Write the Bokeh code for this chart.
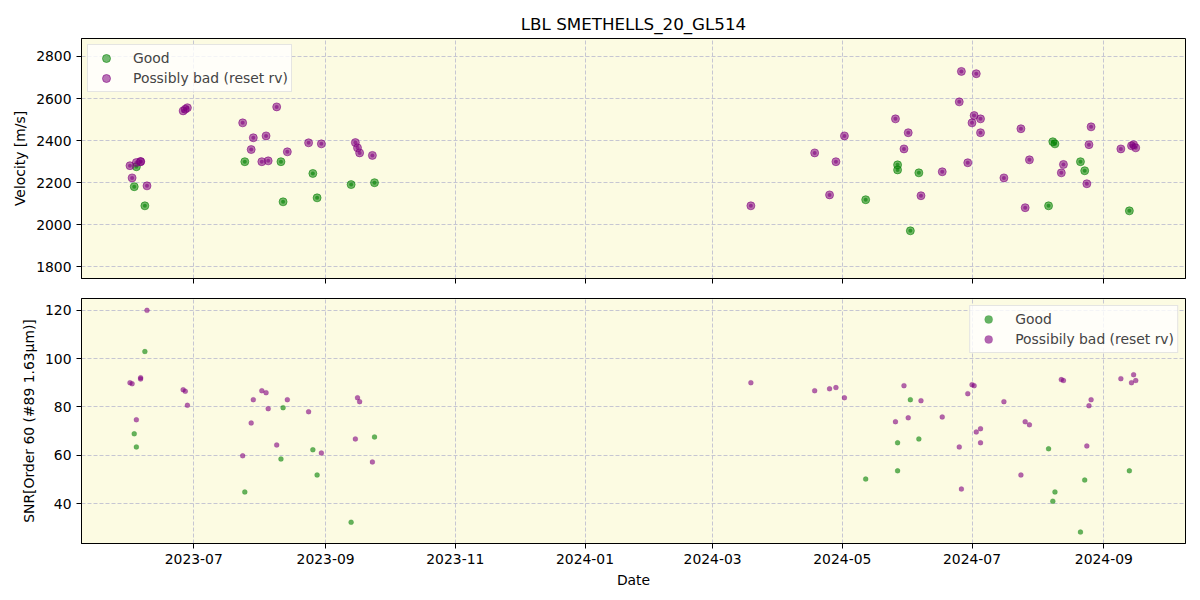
import datetime as dt
from bokeh.plotting import figure
from bokeh.layouts import column
from bokeh.models import (Range1d, ColumnDataSource, Legend, LegendItem, MonthsTicker,
                          DatetimeTickFormatter, SingleIntervalTicker, CustomJSTickFormatter)
from bokeh.embed import file_html
from bokeh.resources import INLINE

# ---------------- data ----------------
good_dates = ["2023-06-03", "2023-06-04", "2023-06-08", "2023-07-25", "2023-08-11", "2023-08-12",
              "2023-08-26", "2023-08-28", "2023-09-13", "2023-09-24", "2024-05-12", "2024-05-27",
              "2024-05-27", "2024-06-02", "2024-06-06", "2024-08-06", "2024-08-08", "2024-08-09",
              "2024-08-21", "2024-08-23", "2024-09-13"]
good_rv = [2180, 2275, 2089, 2299, 2299, 2108, 2243, 2127, 2190, 2199, 2118, 2284,
           2260, 1970, 2246, 2089, 2394, 2384, 2299, 2256, 2065]
good_snr = [68.9, 63.5, 102.9, 44.9, 58.5, 79.7, 62.3, 51.9, 32.4, 67.6, 50.2, 65.2,
            53.6, 83.0, 66.8, 62.7, 41.1, 44.9, 28.3, 49.8, 53.6]

bad_dates = ["2023-06-01", "2023-06-02", "2023-06-04", "2023-06-06", "2023-06-06", "2023-06-09",
             "2023-06-26", "2023-06-27", "2023-06-28", "2023-07-24", "2023-07-28", "2023-07-29",
             "2023-08-02", "2023-08-04", "2023-08-05", "2023-08-09", "2023-08-14", "2023-08-24",
             "2023-08-30", "2023-09-15", "2023-09-16", "2023-09-17", "2023-09-23",
             "2024-03-19", "2024-04-18", "2024-04-25", "2024-04-28", "2024-05-02", "2024-05-26",
             "2024-05-30", "2024-06-01", "2024-06-07", "2024-06-17", "2024-06-25", "2024-06-26",
             "2024-06-29", "2024-07-01", "2024-07-02", "2024-07-03", "2024-07-05", "2024-07-05",
             "2024-07-16", "2024-07-24", "2024-07-26", "2024-07-28", "2024-08-12", "2024-08-13",
             "2024-08-24", "2024-08-25", "2024-08-26", "2024-09-09", "2024-09-14", "2024-09-15",
             "2024-09-16"]
bad_rv = [2280, 2222, 2295, 2299, 2300, 2184,
          2541, 2549, 2556, 2484, 2357, 2413,
          2299, 2422, 2303, 2560, 2346, 2389,
          2384, 2390, 2365, 2341, 2329,
          2089, 2341, 2141, 2299, 2422, 2503,
          2360, 2437, 2137, 2251, 2584, 2729,
          2294, 2484, 2519, 2718, 2503, 2437,
          2222, 2456, 2080, 2308, 2246, 2286,
          2194, 2380, 2465, 2360, 2375, 2380,
          2365]
bad_snr = [90.0, 89.6, 74.7, 92.1, 91.6, 119.9,
           87.1, 86.5, 80.7, 59.8, 73.4, 83.0,
           86.7, 85.9, 79.3, 64.3, 83.0, 78.0,
           61.0, 66.8, 83.8, 82.2, 57.3,
           90.0, 86.7, 87.5, 88.0, 83.8, 73.9,
           88.8, 75.5, 82.6, 75.9, 63.5, 46.1,
           85.5, 89.2, 88.8, 69.7, 71.0, 65.2,
           82.2, 51.9, 73.9, 72.6, 91.3, 90.9,
           63.9, 80.5, 83.0, 91.7, 90.0, 93.3,
           90.9]

title_text = "LBL SMETHELLS_20_GL514"
good_label = "Good"
bad_label_top = "Possibly bad (reset rv)"
bad_label_bottom = "Possibily bad (reset rv)"

# ---------------- styling ----------------
FONT = "DejaVu Sans"
FS = "13.9px"
BG = "#fcfbe2"
GREEN = "green"
PURPLE = "purple"

good_src = ColumnDataSource(dict(date=[dt.datetime.fromisoformat(d) for d in good_dates],
                                 rv=good_rv, snr=good_snr))
bad_src = ColumnDataSource(dict(date=[dt.datetime.fromisoformat(d) for d in bad_dates],
                                rv=bad_rv, snr=bad_snr))

ref = dt.datetime(2023, 7, 1)
x_start = ref - dt.timedelta(days=52.8)
x_end = ref + dt.timedelta(days=466.4)


def style(p):
    p.background_fill_color = BG
    p.border_fill_color = "white"
    p.outline_line_color = "black"
    p.outline_line_width = 1
    for ax in (p.xaxis[0], p.yaxis[0]):
        ax.axis_line_color = "black"
        ax.major_tick_line_color = "black"
        ax.major_tick_out = 5
        ax.major_tick_in = 0
        ax.minor_tick_line_color = None
        ax.major_label_text_font = FONT
        ax.major_label_text_font_size = FS
        ax.major_label_text_color = "black"
        ax.axis_label_text_font = FONT
        ax.axis_label_text_font_size = FS
        ax.axis_label_text_font_style = "normal"
        ax.axis_label_text_color = "black"
    p.xaxis[0].ticker = MonthsTicker(months=[0, 2, 4, 6, 8, 10])
    p.xaxis[0].formatter = DatetimeTickFormatter(months="%Y-%m", days="%Y-%m", years="%Y-%m")
    p.grid.grid_line_color = "#c6c6d2"
    p.grid.grid_line_dash = "4 2"
    p.grid.grid_line_width = 1


def make_legend(items, location, margin):
    lg = Legend(items=items, location=location, margin=margin, padding=3, spacing=0,
                glyph_width=30, glyph_height=20, label_height=20, label_standoff=12,
                label_text_font=FONT, label_text_font_size=FS,
                border_line_color="#cccccc", border_line_width=1,
                background_fill_color="white", background_fill_alpha=0.8)
    return lg


# ---------------- top panel ----------------
p1 = figure(width=1200, height=288, x_axis_type="datetime",
            x_range=Range1d(x_start, x_end), y_range=Range1d(1742.9, 2885.7),
            output_backend="svg", toolbar_location=None,
            min_border_left=81, min_border_right=15, min_border_top=38, min_border_bottom=10)
style(p1)
p1.title.text = title_text
p1.title.align = "center"
p1.title.text_font = FONT
p1.title.text_font_size = "16.7px"
p1.title.text_font_style = "normal"
p1.title.text_color = "black"
p1.yaxis[0].ticker = SingleIntervalTicker(interval=200, num_minor_ticks=0)
p1.yaxis[0].axis_label = "Velocity [m/s]"
p1.xaxis[0].formatter = CustomJSTickFormatter(code="return ''")

g_out = p1.scatter("date", "rv", source=good_src, size=8, marker="circle",
                   fill_color=GREEN, fill_alpha=0.55, line_color=GREEN, line_alpha=0.55, line_width=1)
p1.scatter("date", "rv", source=good_src, size=4, marker="circle",
           fill_color=GREEN, fill_alpha=0.6, line_color=None)
b_out = p1.scatter("date", "rv", source=bad_src, size=8, marker="circle",
                   fill_color=PURPLE, fill_alpha=0.55, line_color=PURPLE, line_alpha=0.55, line_width=1)
p1.scatter("date", "rv", source=bad_src, size=4, marker="circle",
           fill_color=PURPLE, fill_alpha=0.6, line_color=None)

# empty span renderers: only give the legend symbols their error-bar stroke
g_bar = p1.vspan(x=[], line_color=GREEN, line_alpha=0.6, line_width=1.5)
b_bar = p1.vspan(x=[], line_color=PURPLE, line_alpha=0.6, line_width=1.5)

p1.add_layout(make_legend([LegendItem(label=good_label, renderers=[g_out, g_bar]),
                           LegendItem(label=bad_label_top, renderers=[b_out, b_bar])],
                          "top_left", 6))

# ---------------- bottom panel ----------------
p2 = figure(width=1200, height=312, x_axis_type="datetime",
            x_range=p1.x_range, y_range=Range1d(23.6, 124.8),
            output_backend="svg", toolbar_location=None,
            min_border_left=81, min_border_right=15, min_border_top=10, min_border_bottom=57)
style(p2)
p2.yaxis[0].ticker = SingleIntervalTicker(interval=20, num_minor_ticks=0)
p2.yaxis[0].axis_label = "SNR[Order 60 (#89 1.63μm)]"
p2.xaxis[0].axis_label = "Date"

g2 = p2.scatter("date", "snr", source=good_src, size=5, marker="circle",
                fill_color=GREEN, fill_alpha=0.6, line_color=GREEN, line_alpha=0.3, line_width=0.5)
b2 = p2.scatter("date", "snr", source=bad_src, size=5, marker="circle",
                fill_color=PURPLE, fill_alpha=0.6, line_color=PURPLE, line_alpha=0.3, line_width=0.5)

p2.add_layout(make_legend([LegendItem(label=good_label, renderers=[g2]),
                           LegendItem(label=bad_label_bottom, renderers=[b2])],
                          "top_right", 7))

layout = column(p1, p2, spacing=0)
open("out.html", "w").write(file_html(layout, INLINE))
